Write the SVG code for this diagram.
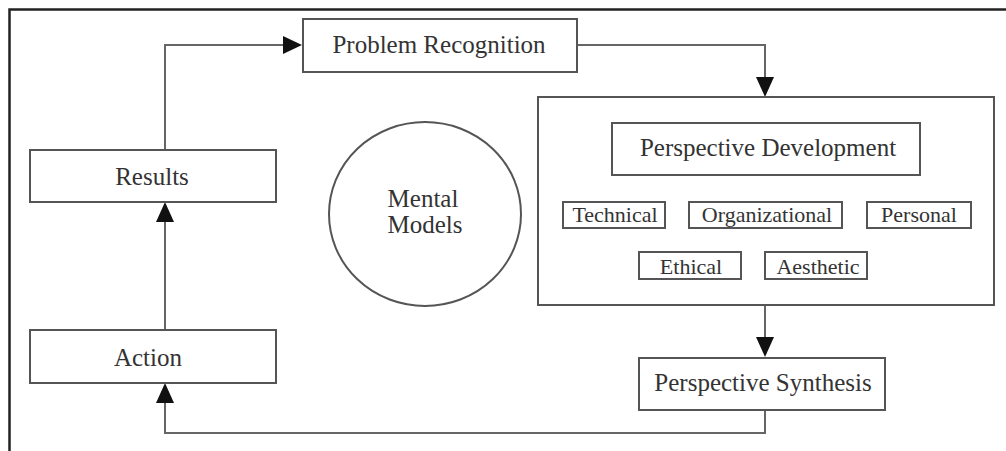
<svg xmlns="http://www.w3.org/2000/svg" width="1006" height="451" viewBox="0 0 1006 451">
  <style>
    .box { fill: #ffffff; stroke: #555555; stroke-width: 2; }
    .frame { fill: none; stroke: #222222; stroke-width: 2.5; }
    .wire { fill: none; stroke: #666666; stroke-width: 2; }
    .head { fill: #111111; }
    .lbl { font-family: "Liberation Serif", "Times New Roman", serif; fill: #333333; text-anchor: middle; }
    .big { font-size: 25px; }
    .small { font-size: 22px; }
  </style>
  <rect width="1006" height="451" fill="#ffffff"/>
  <!-- outer frame: top and left edges -->
  <path class="frame" d="M9.5,451 V9.5 H1006"/>

  <!-- connectors -->
  <g id="connectors">
    <path class="wire" d="M165,150 V45 H290"/>
    <path class="wire" d="M577,45 H765 V85"/>
    <path class="wire" d="M765,305 V345"/>
    <path class="wire" d="M765,410 V433 H165 V395"/>
    <path class="wire" d="M165,330 V215"/>
    <!-- arrowheads -->
    <path class="head" d="M283,36 L302,45 L283,54 Z"/>
    <path class="head" d="M756,77 L765,97 L774,77 Z"/>
    <path class="head" d="M756,337 L765,357 L774,337 Z"/>
    <path class="head" d="M156,403 L165,383 L174,403 Z"/>
    <path class="head" d="M156,222 L165,202 L174,222 Z"/>
  </g>

  <g id="problem-recognition">
    <rect class="box" x="303" y="19" width="274" height="53"/>
    <text class="lbl big" x="439" y="53">Problem Recognition</text>
  </g>

  <g id="results">
    <rect class="box" x="30" y="150" width="246" height="52"/>
    <text class="lbl big" x="152" y="185">Results</text>
  </g>

  <g id="action">
    <rect class="box" x="30" y="330" width="246" height="53"/>
    <text class="lbl big" x="148" y="366">Action</text>
  </g>

  <g id="mental-models">
    <ellipse class="box" cx="425" cy="214" rx="96" ry="92"/>
    <text class="lbl big" x="423" y="207">Mental</text>
    <text class="lbl big" x="425" y="233">Models</text>
  </g>

  <g id="perspective-development">
    <rect class="box" x="538" y="97" width="456" height="208"/>
    <rect class="box" x="612" y="123" width="308" height="52"/>
    <text class="lbl big" x="768" y="156">Perspective Development</text>
  </g>

  <g id="technical">
    <rect class="box" x="563" y="202" width="102" height="26"/>
    <text class="lbl small" x="615" y="222">Technical</text>
  </g>
  <g id="organizational">
    <rect class="box" x="689" y="202" width="153" height="26"/>
    <text class="lbl small" x="767" y="222">Organizational</text>
  </g>
  <g id="personal">
    <rect class="box" x="867" y="202" width="104" height="26"/>
    <text class="lbl small" x="919" y="222">Personal</text>
  </g>
  <g id="ethical">
    <rect class="box" x="639" y="252" width="102" height="27"/>
    <text class="lbl small" x="691" y="274">Ethical</text>
  </g>
  <g id="aesthetic">
    <rect class="box" x="765" y="252" width="102" height="27"/>
    <text class="lbl small" x="818" y="274">Aesthetic</text>
  </g>

  <g id="perspective-synthesis">
    <rect class="box" x="639" y="358" width="246" height="52"/>
    <text class="lbl big" x="763" y="391">Perspective Synthesis</text>
  </g>
</svg>
